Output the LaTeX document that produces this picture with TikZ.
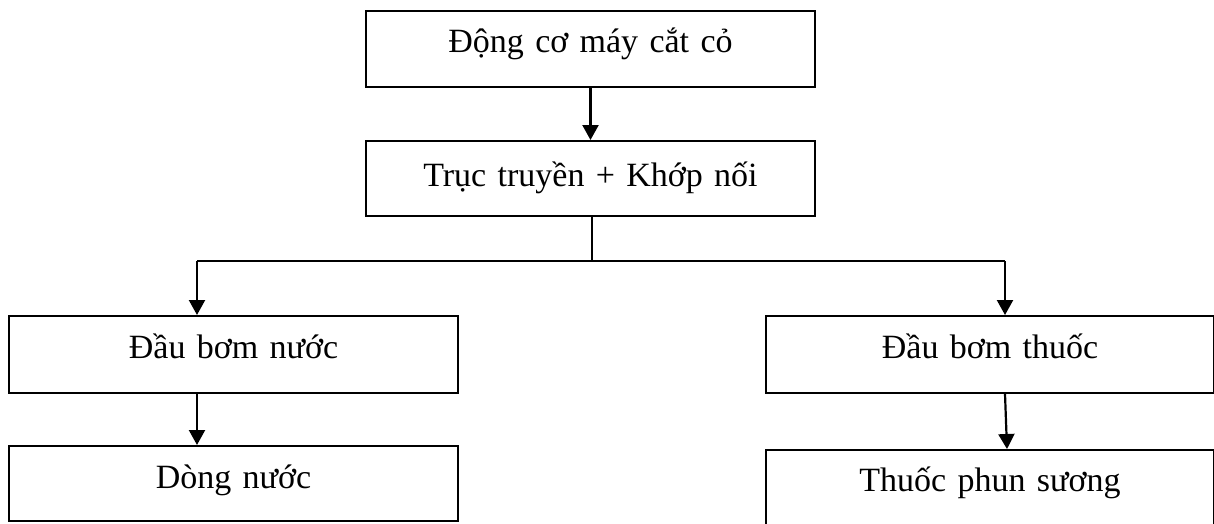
\documentclass[tikz,border=0pt]{standalone}
\usepackage{fontspec}
\setmainfont{Liberation Serif}
\usetikzlibrary{arrows.meta}

\begin{document}
\begin{tikzpicture}[x=0.5pt,y=-0.5pt,
  box/.style={draw, line width=1pt, rectangle, inner sep=0pt, align=center,
    anchor=north west, font=\fontsize{17}{20}\selectfont},
  wide/.style={text width=224.5pt},
  link/.style={line width=1.1pt},
  arr/.style={link, -{Triangle[width=8pt,length=7.5pt]}}]
  \useasboundingbox (0,0) rectangle (1214,524);
  \clip (0,0) rectangle (1214,524);

  % upper chain: engine and drive shaft
  \node[box, wide, text height=21pt, text depth=17pt] (engine) at (365,10) {Động cơ máy cắt cỏ};
  \node[box, wide, text height=22.5pt, text depth=15pt] (shaft) at (365,140) {Trục truyền + Khớp nối};

  % left branch: water pump
  \node[box, wide, text height=21pt, text depth=17.5pt] (wpump) at (8,315) {Đầu bơm nước};
  \node[box, wide, text height=21pt, text depth=16.5pt] (water) at (8,445) {Dòng nước};

  % right branch: spray pump
  \node[box, text width=224pt, text height=21pt, text depth=17.5pt] (spump) at (765,315) {Đầu bơm thuốc};
  \node[box, text width=224pt, text height=20.5pt, text depth=22pt] (mist) at (765,449) {Thuốc phun sương};

  % splitter line
  \coordinate (jl) at (197,261);
  \coordinate (jr) at (1005,261);
  \coordinate (jm) at (592,261);

  \draw[arr] (engine.south) -- (shaft.north);
  \draw[link] (shaft.south -| jm) -- (jm);
  \draw[link] (jl) -- (jr);
  \draw[arr] (jl) -- (jl |- wpump.north);
  \draw[arr] (jr) -- (jr |- spump.north);
  \draw[arr] (wpump.south -| jl) -- (water.north -| jl);
  \draw[arr] (spump.south -| jr) -- ([xshift=1pt]mist.north -| jr);
\end{tikzpicture}
\end{document}
